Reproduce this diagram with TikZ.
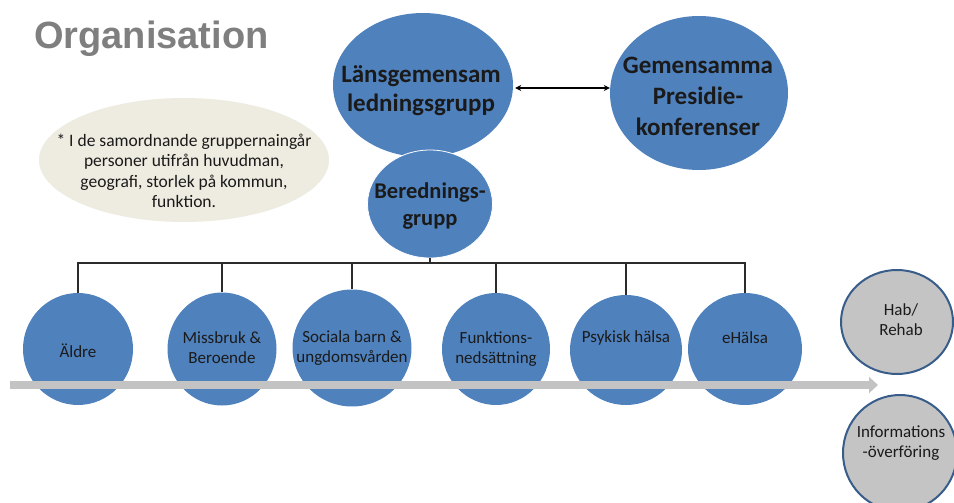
\documentclass[tikz,border=0pt]{standalone}
\usepackage{fontspec}
\setmainfont{Carlito}
\newfontfamily\titlefont{Liberation Sans}
\usetikzlibrary{shapes.geometric,arrows.meta}
\definecolor{blueF}{HTML}{4F81BD}
\definecolor{beigeF}{HTML}{EEECE1}
\definecolor{grayF}{HTML}{C4C4C4}
\definecolor{darkB}{HTML}{385D8A}
\definecolor{txt}{HTML}{1A1A1A}
\definecolor{titleC}{HTML}{7F7F7F}
\definecolor{arrowC}{HTML}{C3C3C3}
\definecolor{lineC}{HTML}{2B2B2B}
\tikzset{
  bluecirc/.style={ellipse, fill=blueF, draw=none, inner sep=0pt},
  graycirc/.style={ellipse, fill=grayF, draw=darkB, line width=2pt, inner sep=0pt},
  bigtxt/.style={font=\fontsize{25}{29}\selectfont\bfseries, text=txt, align=center},
  midtxt/.style={font=\fontsize{22.5}{27}\selectfont\bfseries, text=txt, align=center},
  smalltxt/.style={font=\fontsize{17}{20}\selectfont, text=txt, align=center},
  notetxt/.style={font=\fontsize{17.5}{20.5}\selectfont, text=txt, align=center},
  bus/.style={draw=lineC, line width=1.3pt}
}
\begin{document}
\begin{tikzpicture}[x=1pt,y=-1pt]
\useasboundingbox (0,0) rectangle (954,503);
% title
\node[font=\titlefont\fontsize{38}{44}\selectfont\bfseries, text=titleC, anchor=west, inner sep=0pt] (title) at (34,39) {Organisation};
% note
\node[ellipse, fill=beigeF, minimum width=290pt, minimum height=124pt, inner sep=0pt] (note) at (184,160) {};
\node[notetxt] (notet) at (184,171) {* I de samordnande gruppernaingår\\personer utifrån huvudman,\\geografi, storlek på kommun,\\funktion.};
% top circles
\node[bluecirc, minimum width=180pt, minimum height=144pt] (lg) at (423,85) {};
\node[bigtxt] (lgt) at (421,91) {Länsgemensam\\ledningsgrupp};
\node[bluecirc, minimum width=178pt, minimum height=154pt] (gp) at (699,93) {};
\node[bigtxt, font=\fontsize{25}{31}\selectfont\bfseries] (gpt) at (698,96) {Gemensamma\\Presidie-\\konferenser};
\node[bluecirc, draw=white, line width=0.8pt, minimum width=125pt, minimum height=108pt] (bg) at (430,204) {};
\node[midtxt] (bgt) at (430,206) {Berednings-\\grupp};
\draw[line width=1.8pt, {Stealth[length=6pt,width=6pt]}-{Stealth[length=6pt,width=6pt]}]
  ([xshift=2pt,yshift=-3pt]lg.east) -- ([yshift=-3pt]lg.east -| gp.west) coordinate (arrEnd);
% bottom circles
\node[bluecirc, minimum width=110pt, minimum height=112pt] (c1) at (78,349) {};
\node[bluecirc, minimum width=109pt, minimum height=113pt] (c2) at (222,349) {};
\node[bluecirc, minimum width=119pt, minimum height=117pt] (c3) at (352,348) {};
\node[bluecirc, minimum width=108pt, minimum height=112pt] (c4) at (496,349) {};
\node[bluecirc, minimum width=112pt, minimum height=110pt] (c5) at (626,350) {};
\node[bluecirc, minimum width=114pt, minimum height=112pt] (c6) at (745,349) {};
\node[smalltxt] (t1) at (78,351) {Äldre};
\node[smalltxt] (t2) at (222,348) {Missbruk \&\\Beroende};
\node[smalltxt] (t3) at (352,348) {Sociala barn \&\\ungdomsvården};
\node[smalltxt] (t4) at (496,349) {Funktions-\\nedsättning};
\node[smalltxt] (t5) at (626,338) {Psykisk hälsa};
\node[smalltxt] (t6) at (745,338) {eHälsa};
% bus
\coordinate (busL) at (77,263);
\coordinate (busR) at (746,263);
\draw[bus] (busL) -- (busR);
\draw[bus] (bg.south) -- (bg.south |- busL);
\foreach \c in {c1,c2,c3,c4,c5,c6} {
  \draw[bus] (\c.north) -- (\c.north |- busL);
}
% gray arrow
\coordinate (arrL) at (10,385);
\coordinate (arrR) at (878,385);
\draw[draw=arrowC, line width=8pt, -{Triangle[length=9pt,width=16pt]}] (arrL) -- (arrR);
% gray circles
\node[graycirc, minimum width=112pt, minimum height=104pt] (hab) at (897,322) {};
\node[smalltxt] (habt) at (901,320) {Hab/\\Rehab};
\node[graycirc, minimum width=114pt, minimum height=116pt] (info) at (900,453) {};
\node[smalltxt] (infot) at (901,443) {Informations\\-överföring};
\end{tikzpicture}
\end{document}
